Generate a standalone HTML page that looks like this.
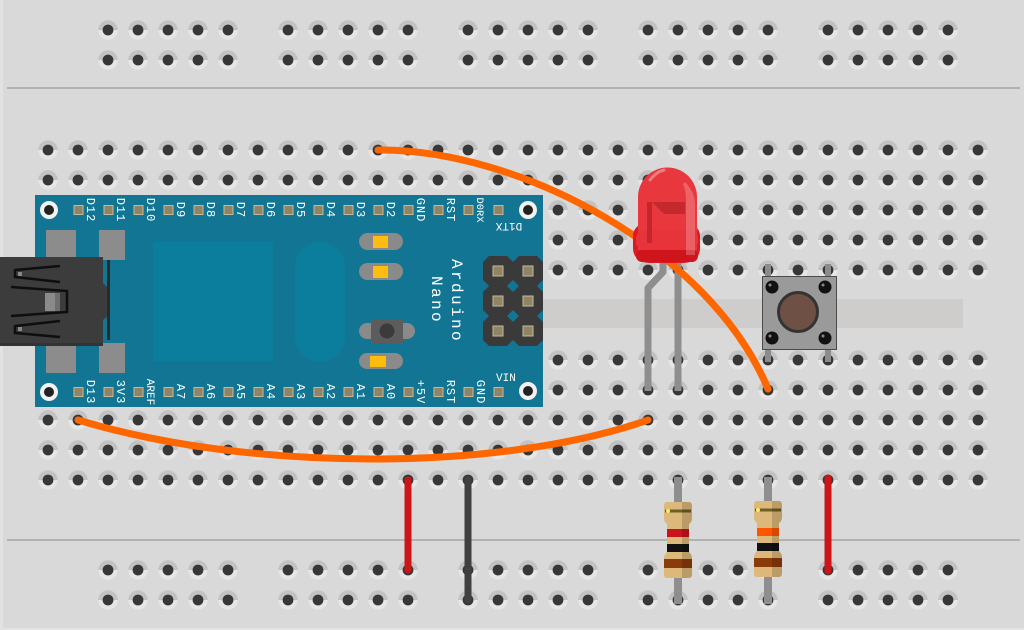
<!DOCTYPE html>
<html>
<head>
<meta charset="utf-8">
<style>
html,body{margin:0;padding:0;background:#dfdfdf;overflow:hidden;}
svg{display:block;}
text{font-family:"Liberation Mono","DejaVu Sans Mono",monospace;fill:#ffffff;}
</style>
</head>
<body>
<svg width="1024" height="630" viewBox="0 0 1024 630" xmlns="http://www.w3.org/2000/svg">
<defs>
  <pattern id="h" x="33" y="15" width="30" height="30" patternUnits="userSpaceOnUse">
    <path d="M5.3,15 A9.7,9.7 0 0 1 24.7,15 Z" fill="#c2c2c2"/>
    <path d="M5.3,15 A9.7,9.7 0 0 0 24.7,15 Z" fill="#e6e6e6"/>
    <circle cx="15" cy="15" r="5.4" fill="#373737"/>
  </pattern>
</defs>

<!-- breadboard -->
<rect x="0" y="0" width="1024" height="630" fill="#e2e2e2"/>
<rect x="3" y="0" width="1021" height="628" fill="#d9d9d9"/>
<line x1="7" y1="88" x2="1020" y2="88" stroke="#b2b2b2" stroke-width="2"/>
<line x1="7" y1="540" x2="1020" y2="540" stroke="#b2b2b2" stroke-width="2"/>
<rect x="33" y="299" width="930" height="29" fill="#cfcdcb"/>

<!-- holes -->
<rect x="33" y="135" width="960" height="150" fill="url(#h)"/>
<rect x="33" y="345" width="960" height="150" fill="url(#h)"/>
<rect x="93" y="15" width="150" height="60" fill="url(#h)"/>
<rect x="273" y="15" width="150" height="60" fill="url(#h)"/>
<rect x="453" y="15" width="150" height="60" fill="url(#h)"/>
<rect x="633" y="15" width="150" height="60" fill="url(#h)"/>
<rect x="813" y="15" width="150" height="60" fill="url(#h)"/>
<rect x="93" y="555" width="150" height="60" fill="url(#h)"/>
<rect x="273" y="555" width="150" height="60" fill="url(#h)"/>
<rect x="453" y="555" width="150" height="60" fill="url(#h)"/>
<rect x="633" y="555" width="150" height="60" fill="url(#h)"/>
<rect x="813" y="555" width="150" height="60" fill="url(#h)"/>

<!-- Arduino Nano -->
<rect x="35" y="195" width="508" height="212" fill="#127593"/>
<rect x="153" y="242" width="120" height="119" fill="#0b7e9e"/>
<rect x="295" y="242" width="50" height="120" rx="25" ry="25" fill="#0b7e9e"/>

<!-- mounting holes -->
<g>
  <circle cx="49" cy="210" r="9" fill="#f2f2f2"/><circle cx="49" cy="210" r="5" fill="#222"/>
  <circle cx="49" cy="392" r="9" fill="#f2f2f2"/><circle cx="49" cy="392" r="5" fill="#222"/>
  <circle cx="528" cy="210" r="9" fill="#f2f2f2"/><circle cx="528" cy="210" r="5" fill="#222"/>
  <circle cx="528" cy="391" r="9" fill="#f2f2f2"/><circle cx="528" cy="391" r="5" fill="#222"/>
</g>

<!-- pads -->
<g fill="#8f8466" stroke="#c4ba98" stroke-width="1">
  <rect x="74" y="205.5" width="9" height="9"/><rect x="104" y="205.5" width="9" height="9"/>
  <rect x="134" y="205.5" width="9" height="9"/><rect x="164" y="205.5" width="9" height="9"/>
  <rect x="194" y="205.5" width="9" height="9"/><rect x="224" y="205.5" width="9" height="9"/>
  <rect x="254" y="205.5" width="9" height="9"/><rect x="284" y="205.5" width="9" height="9"/>
  <rect x="314" y="205.5" width="9" height="9"/><rect x="344" y="205.5" width="9" height="9"/>
  <rect x="374" y="205.5" width="9" height="9"/><rect x="404" y="205.5" width="9" height="9"/>
  <rect x="434" y="205.5" width="9" height="9"/><rect x="464" y="205.5" width="9" height="9"/>
  <rect x="494" y="205.5" width="9" height="9"/>
  <rect x="74" y="387.5" width="9" height="9"/><rect x="104" y="387.5" width="9" height="9"/>
  <rect x="134" y="387.5" width="9" height="9"/><rect x="164" y="387.5" width="9" height="9"/>
  <rect x="194" y="387.5" width="9" height="9"/><rect x="224" y="387.5" width="9" height="9"/>
  <rect x="254" y="387.5" width="9" height="9"/><rect x="284" y="387.5" width="9" height="9"/>
  <rect x="314" y="387.5" width="9" height="9"/><rect x="344" y="387.5" width="9" height="9"/>
  <rect x="374" y="387.5" width="9" height="9"/><rect x="404" y="387.5" width="9" height="9"/>
  <rect x="434" y="387.5" width="9" height="9"/><rect x="464" y="387.5" width="9" height="9"/>
  <rect x="494" y="387.5" width="9" height="9"/>
</g>

<!-- top labels -->
<g font-size="12" text-anchor="middle" letter-spacing="1">
  <text transform="translate(87,210) rotate(90)">D12</text>
  <text transform="translate(117,210) rotate(90)">D11</text>
  <text transform="translate(147,210) rotate(90)">D10</text>
  <text transform="translate(177,210) rotate(90)">D9</text>
  <text transform="translate(207,210) rotate(90)">D8</text>
  <text transform="translate(237,210) rotate(90)">D7</text>
  <text transform="translate(267,210) rotate(90)">D6</text>
  <text transform="translate(297,210) rotate(90)">D5</text>
  <text transform="translate(327,210) rotate(90)">D4</text>
  <text transform="translate(357,210) rotate(90)">D3</text>
  <text transform="translate(387,210) rotate(90)">D2</text>
  <text transform="translate(417,210) rotate(90)">GND</text>
  <text transform="translate(447,210) rotate(90)">RST</text>
  <text transform="translate(477,210) rotate(90)" font-size="10.5" letter-spacing="0">D0RX</text>
  <text transform="translate(509,223) rotate(180)" font-size="11" letter-spacing="0">D1TX</text>
</g>
<!-- bottom labels -->
<g font-size="12" text-anchor="middle" letter-spacing="1">
  <text transform="translate(87,392) rotate(90)">D13</text>
  <text transform="translate(117,392) rotate(90)">3V3</text>
  <text transform="translate(147,392) rotate(90)" font-size="11" letter-spacing="0">AREF</text>
  <text transform="translate(177,392) rotate(90)">A7</text>
  <text transform="translate(207,392) rotate(90)">A6</text>
  <text transform="translate(237,392) rotate(90)">A5</text>
  <text transform="translate(267,392) rotate(90)">A4</text>
  <text transform="translate(297,392) rotate(90)">A3</text>
  <text transform="translate(327,392) rotate(90)">A2</text>
  <text transform="translate(357,392) rotate(90)">A1</text>
  <text transform="translate(387,392) rotate(90)">A0</text>
  <text transform="translate(417,392) rotate(90)">+5V</text>
  <text transform="translate(447,392) rotate(90)">RST</text>
  <text transform="translate(477,392) rotate(90)">GND</text>
</g>
<text x="496" y="381" font-size="11" letter-spacing="0">VIN</text>
<text transform="translate(452,301) rotate(90)" font-size="16" text-anchor="middle" letter-spacing="2.4">Arduino</text>
<text transform="translate(432,300) rotate(90)" font-size="16" text-anchor="middle" letter-spacing="2.4">Nano</text>

<!-- SMD parts -->
<rect x="359" y="233" width="44" height="17" rx="8.5" fill="#8a8a8a"/>
<rect x="373" y="236" width="15" height="12" fill="#fdbd10"/>
<rect x="359" y="263" width="44" height="17" rx="8.5" fill="#8a8a8a"/>
<rect x="373" y="266" width="15" height="12" fill="#fdbd10"/>
<rect x="359" y="323" width="56" height="16" rx="8" fill="#8a8a8a"/>
<rect x="371" y="320" width="32" height="23" fill="#5c5c5c"/>
<circle cx="387" cy="331" r="7.5" fill="#3b3b3b"/>
<rect x="359" y="353" width="44" height="16" rx="8" fill="#8a8a8a"/>
<rect x="370" y="356" width="16" height="11" fill="#fdbd10"/>

<!-- ICSP header -->
<g fill="#3a3a3a">
  <polygon points="489,256 507,256 513,262 513,280 507,286 489,286 483,280 483,262"/>
  <polygon points="519,256 537,256 543,262 543,280 537,286 519,286 513,280 513,262"/>
  <polygon points="489,286 507,286 513,292 513,310 507,316 489,316 483,310 483,292"/>
  <polygon points="519,286 537,286 543,292 543,310 537,316 519,316 513,310 513,292"/>
  <polygon points="489,316 507,316 513,322 513,340 507,346 489,346 483,340 483,322"/>
  <polygon points="519,316 537,316 543,322 543,340 537,346 519,346 513,340 513,322"/>
</g>
<g fill="#8f8466" stroke="#c4ba98" stroke-width="1">
  <rect x="493" y="266" width="10" height="10"/><rect x="523" y="266" width="10" height="10"/>
  <rect x="493" y="296" width="10" height="10"/><rect x="523" y="296" width="10" height="10"/>
  <rect x="493" y="326" width="10" height="10"/><rect x="523" y="326" width="10" height="10"/>
</g>

<!-- USB connector -->
<g fill="#8c8c8c">
  <rect x="46" y="230" width="30" height="30"/>
  <rect x="99" y="230" width="26" height="30"/>
  <rect x="46" y="343" width="30" height="30"/>
  <rect x="99" y="343" width="26" height="30"/>
</g>
<rect x="0" y="257" width="103" height="89" fill="#3c3c3c"/>
<rect x="0" y="343" width="103" height="3" fill="#333"/>
<polygon points="103,283 110,290 110,314 103,320" fill="#3c3c3c"/>
<rect x="107" y="260" width="3" height="80" fill="#2a2a2a"/>
<g fill="none" stroke="#0e0e0e" stroke-width="2.5" stroke-linejoin="miter">
  <path d="M60,266 L15,270 L15,277 L60,282"/>
  <path d="M11,287 L67,291 L67,312 L11,316"/>
  <path d="M60,321 L15,326 L15,333 L60,337"/>
</g>
<rect x="18" y="272" width="4" height="4" fill="#888"/>
<rect x="18" y="327" width="4" height="4" fill="#888"/>
<rect x="45" y="293" width="15" height="18" fill="#8a8a8a"/>
<rect x="55" y="293" width="5" height="18" fill="#6e6e6e"/>

<!-- lower orange wire -->
<path d="M78,420 C250,472 500,472 648,420" fill="none" stroke="#fe6600" stroke-width="7" stroke-linecap="round"/>

<!-- LED legs -->
<path d="M663,262 V272 L648,288 V391" fill="none" stroke="#8e8e8e" stroke-width="7" stroke-linejoin="round"/>
<path d="M678,262 V391" fill="none" stroke="#8e8e8e" stroke-width="7"/>

<!-- upper orange wire -->
<path d="M378,150 C520,149 710,250 768,389" fill="none" stroke="#fe6600" stroke-width="7" stroke-linecap="round"/>

<!-- LED body -->
<rect x="633" y="222" width="67" height="41" rx="16" ry="14" fill="#dc1a21"/>
<path d="M638,250 V197 A29.5,29.5 0 0 1 697,197 V250 Z" fill="#e8373d"/>
<rect x="636" y="230" width="62" height="20" rx="8" fill="#e6343a"/>
<rect x="636" y="250" width="62" height="12" rx="6" fill="#d0141b"/>
<path d="M685,182 Q695,192 695,205 V255 H686 V200 Q686,190 683,184 Z" fill="#ffffff" fill-opacity="0.22"/>
<path d="M650,180 Q656,172 664,170" fill="none" stroke="#ffffff" stroke-opacity="0.35" stroke-width="3" stroke-linecap="round"/>
<rect x="647" y="202" width="5" height="41" fill="#b8222a" fill-opacity="0.75"/>
<path d="M652,202 H685 V214 H664 Z" fill="#b8222a" fill-opacity="0.7"/>

<!-- pushbutton -->
<g fill="#8c8c8c">
  <rect x="765" y="264" width="6" height="14"/><rect x="825" y="264" width="6" height="14"/>
  <rect x="765" y="348" width="6" height="14"/><rect x="825" y="348" width="6" height="14"/>
</g>
<rect x="762.5" y="276.5" width="74" height="73" fill="#9a9a9a" stroke="#4a4a4a" stroke-width="1"/>
<g fill="#111">
  <circle cx="772" cy="287" r="6.5"/><circle cx="825" cy="287" r="6.5"/>
  <circle cx="772" cy="338" r="6.5"/><circle cx="825" cy="338" r="6.5"/>
</g>
<g fill="#ffffff" fill-opacity="0.5">
  <circle cx="770" cy="285" r="1.5"/><circle cx="823" cy="285" r="1.5"/>
  <circle cx="770" cy="336" r="1.5"/><circle cx="823" cy="336" r="1.5"/>
</g>
<circle cx="798" cy="312" r="19.5" fill="#6f5045" stroke="#333" stroke-width="3"/>

<!-- red / black jumper wires -->
<g stroke-width="7" stroke-linecap="round" fill="none">
  <line x1="408" y1="480" x2="408" y2="570" stroke="#cc1519"/>
  <line x1="468" y1="480" x2="468" y2="600" stroke="#404040"/>
  <line x1="828" y1="478" x2="828" y2="571" stroke="#cc1519"/>
</g>

<!-- resistors -->
<g>
  <line x1="678" y1="477" x2="678" y2="604" stroke="#8e8e8e" stroke-width="8"/>
  <path d="M667,502 h22 q3,0 3,4 v12 q0,4 -3,6 v28 q3,3 3,6 v16 q0,4 -3,4 h-22 q-3,0 -3,-4 v-16 q0,-3 3,-6 v-28 q-3,-2 -3,-6 v-12 q0,-4 3,-4 z" fill="#dcb87a"/>
  <rect x="665" y="509.5" width="26" height="3" fill="#6e5f22"/>
  <circle cx="668" cy="511" r="2" fill="#f4ec6a"/>
  <rect x="667" y="529" width="22" height="8" fill="#c8141b"/>
  <rect x="667" y="544" width="22" height="8" fill="#111"/>
  <rect x="664" y="559" width="28" height="9" fill="#8b3a0a"/>
  <path d="M682,502 h7 q3,0 3,4 v12 q0,4 -3,6 v28 q3,3 3,6 v16 q0,4 -3,4 h-7 z" fill="#000" fill-opacity="0.15"/>
</g>
<g>
  <line x1="768" y1="477" x2="768" y2="604" stroke="#8e8e8e" stroke-width="8"/>
  <path d="M757,501 h22 q3,0 3,4 v12 q0,4 -3,6 v28 q3,3 3,6 v16 q0,4 -3,4 h-22 q-3,0 -3,-4 v-16 q0,-3 3,-6 v-28 q-3,-2 -3,-6 v-12 q0,-4 3,-4 z" fill="#dcb87a"/>
  <rect x="755" y="508.5" width="26" height="3" fill="#6e5f22"/>
  <circle cx="758" cy="510" r="2" fill="#f4ec6a"/>
  <rect x="757" y="528" width="22" height="8" fill="#ff5500"/>
  <rect x="757" y="543" width="22" height="8" fill="#111"/>
  <rect x="754" y="558" width="28" height="9" fill="#8b3a0a"/>
  <path d="M772,501 h7 q3,0 3,4 v12 q0,4 -3,6 v28 q3,3 3,6 v16 q0,4 -3,4 h-7 z" fill="#000" fill-opacity="0.15"/>
</g>
</svg>
</body>
</html>
